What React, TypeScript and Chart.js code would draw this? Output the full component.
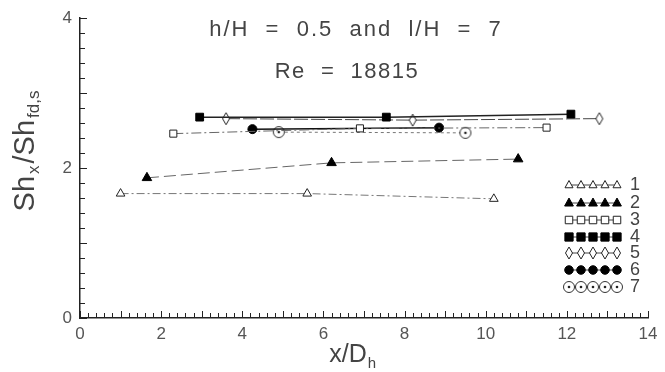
import React, { useEffect, useRef } from "react";
import { Chart, registerables } from "chart.js";
Chart.register(...registerables);

// ---- data ----
const s1X = [1.0, 5.6, 10.2];
const s1Y = [1.66, 1.66, 1.59];
const s2X = [1.65, 6.2, 10.8];
const s2Y = [1.87, 2.07, 2.12];
const s3X = [2.3, 6.9, 11.5];
const s3Y = [2.46, 2.53, 2.54];
const s4X = [2.95, 7.55, 12.1];
const s4Y = [2.68, 2.68, 2.72];
const s5X = [3.6, 8.2, 12.8];
const s5Y = [2.66, 2.64, 2.66];
const s6X = [4.25, 8.85];
const s6Y = [2.52, 2.54];
const s7X = [4.9, 9.5];
const s7Y = [2.48, 2.47];
const seriesLabels = ["1", "2", "3", "4", "5", "6", "7"];
const xTickValues = [0, 2, 4, 6, 8, 10, 12, 14];
const yTickValues = [0, 2, 4];
const titleLine1 = "h/H  =  0.5  and  l/H  =  7";
const titleLine2 = "Re  =  18815";

const FONT = "'Liberation Sans Narrow', 'Liberation Sans', sans-serif";

function makeDiamond(): HTMLCanvasElement {
  const c = document.createElement("canvas");
  c.width = 10;
  c.height = 14;
  const g = c.getContext("2d")!;
  g.fillStyle = "#fff";
  g.strokeStyle = "#222";
  g.lineWidth = 1;
  g.beginPath();
  g.moveTo(5, 1);
  g.lineTo(8.5, 7);
  g.lineTo(5, 13);
  g.lineTo(1.5, 7);
  g.closePath();
  g.fill();
  g.stroke();
  return c;
}

function makeCircleDot(): HTMLCanvasElement {
  const c = document.createElement("canvas");
  c.width = 14;
  c.height = 14;
  const g = c.getContext("2d")!;
  g.fillStyle = "#fff";
  g.strokeStyle = "#333";
  g.lineWidth = 1;
  g.beginPath();
  g.arc(7, 7, 5.5, 0, Math.PI * 2);
  g.fill();
  g.stroke();
  g.fillStyle = "#222";
  g.beginPath();
  g.arc(7, 7, 1.3, 0, Math.PI * 2);
  g.fill();
  return c;
}

function pts(xs: number[], ys: number[]) {
  return xs.map((x, i) => ({ x, y: ys[i] }));
}

export default function App() {
  const ref = useRef<HTMLCanvasElement | null>(null);

  useEffect(() => {
    document.body.style.margin = "0";
    const canvas = ref.current!;
    const diamond = makeDiamond();
    const circleDot = makeCircleDot();

    const styles: any[] = [
      { pointStyle: "triangle", pointRadius: 5, pointBackgroundColor: "#fff", pointBorderColor: "#222", borderColor: "#777", borderWidth: 1, borderDash: [8, 3, 2, 3] },
      { pointStyle: "triangle", pointRadius: 5.5, pointBackgroundColor: "#000", pointBorderColor: "#000", borderColor: "#666", borderWidth: 1, borderDash: [12, 5] },
      { pointStyle: "rect", pointRadius: 5, pointBackgroundColor: "#fff", pointBorderColor: "#222", borderColor: "#666", borderWidth: 1, borderDash: [10, 3, 2, 3] },
      { pointStyle: "rect", pointRadius: 5.5, pointBackgroundColor: "#000", pointBorderColor: "#000", borderColor: "#222", borderWidth: 1.5, borderDash: [] },
      { pointStyle: diamond, pointRadius: 5, pointBackgroundColor: "#fff", pointBorderColor: "#222", borderColor: "#444", borderWidth: 1, borderDash: [14, 3] },
      { pointStyle: "circle", pointRadius: 4.5, pointBackgroundColor: "#000", pointBorderColor: "#000", borderColor: "#111", borderWidth: 1.5, borderDash: [] },
      { pointStyle: circleDot, pointRadius: 6, pointBackgroundColor: "#fff", pointBorderColor: "#333", borderColor: "#777", borderWidth: 1, borderDash: [3, 3] },
    ];
    const allData = [pts(s1X, s1Y), pts(s2X, s2Y), pts(s3X, s3Y), pts(s4X, s4Y), pts(s5X, s5Y), pts(s6X, s6Y), pts(s7X, s7Y)];

    const datasets = allData.map((d, i) => ({
      label: seriesLabels[i],
      data: d,
      showLine: true,
      fill: false,
      tension: 0,
      pointBorderWidth: 1,
      ...styles[i],
    }));

    function drawMarker(ctx: any, style: any, r: number, x: number, y: number) {
      if (style instanceof HTMLCanvasElement) {
        ctx.drawImage(style, x - style.width / 2, y - style.height / 2);
        return;
      }
      ctx.beginPath();
      if (style === "triangle") {
        ctx.moveTo(x, y - r * 0.9);
        ctx.lineTo(x + r * 0.8, y + r * 0.55);
        ctx.lineTo(x - r * 0.8, y + r * 0.55);
        ctx.closePath();
      } else if (style === "rect") {
        ctx.rect(x - r * 0.75, y - r * 0.75, r * 1.5, r * 1.5);
      } else {
        ctx.arc(x, y, r * 0.95, 0, Math.PI * 2);
      }
      ctx.fill();
      ctx.stroke();
    }

    const decor = {
      id: "decor",
      afterDraw(chart: any) {
        const ctx = chart.ctx;
        const xs = chart.scales.x;
        const ys = chart.scales.y;
        const area = chart.chartArea;
        ctx.save();
        // inward minor ticks
        ctx.strokeStyle = "#222";
        ctx.lineWidth = 1;
        for (let k = 0; k <= 20; k++) {
          const v = k * 0.2;
          const py = Math.round(ys.getPixelForValue(v)) + 0.5;
          const len = k % 5 === 0 ? 7 : 5;
          ctx.beginPath();
          ctx.moveTo(area.left, py);
          ctx.lineTo(area.left + len, py);
          ctx.stroke();
        }
        for (let k = 0; k <= 70; k++) {
          const v = k * 0.2;
          const px = Math.round(xs.getPixelForValue(v)) + 0.5;
          const len = k % 5 === 0 ? 7 : 5;
          ctx.beginPath();
          ctx.moveTo(px, area.bottom);
          ctx.lineTo(px, area.bottom - len);
          ctx.stroke();
        }
        // titles
        ctx.fillStyle = "#444";
        ctx.textAlign = "center";
        ctx.textBaseline = "middle";
        ctx.font = `22px ${FONT}`;
        (ctx as any).letterSpacing = "2px";
        ctx.fillText(titleLine1, 356, 30);
        (ctx as any).letterSpacing = "1.5px";
        ctx.fillText(titleLine2, 347, 72);
        (ctx as any).letterSpacing = "0px";

        // legend
        const rowY = [185, 203, 220, 237, 253, 270, 287];
        for (let i = 0; i < 7; i++) {
          const ds = chart.data.datasets[i];
          const y = rowY[i];
          const x0 = 569;
          const step = 12;
          ctx.strokeStyle = "#444";
          ctx.lineWidth = 1;
          ctx.setLineDash([]);
          ctx.beginPath();
          ctx.moveTo(x0, y);
          ctx.lineTo(x0 + step * 4, y);
          ctx.stroke();
          for (let j = 0; j < 5; j++) {
            ctx.fillStyle = ds.pointBackgroundColor;
            ctx.strokeStyle = ds.pointBorderColor;
            ctx.lineWidth = 1;
            drawMarker(ctx, ds.pointStyle, ds.pointRadius, x0 + step * j, y);
          }
          ctx.fillStyle = "#444";
          ctx.textAlign = "left";
          ctx.font = `18px ${FONT}`;
          ctx.fillText(seriesLabels[i], 630, y);
        }

        // y axis title (rotated)
        ctx.save();
        ctx.translate(24, 150);
        ctx.rotate(-Math.PI / 2);
        ctx.fillStyle = "#444";
        ctx.textBaseline = "alphabetic";
        ctx.textAlign = "left";
        const parts: [string, number, number][] = [
          ["Sh", 29, 0],
          ["x", 17, 5],
          ["/Sh", 29, 0],
          ["fd,s", 17, 5],
        ];
        let total = 0;
        for (const [t, s] of parts) {
          ctx.font = `${s}px ${FONT}`;
          total += ctx.measureText(t).width + 2;
        }
        let cx = -total / 2;
        for (const [t, s, dy] of parts) {
          ctx.font = `${s}px ${FONT}`;
          ctx.fillText(t, cx, 10 + dy);
          cx += ctx.measureText(t).width + 2;
        }
        ctx.restore();

        // x axis title
        ctx.fillStyle = "#444";
        ctx.textBaseline = "alphabetic";
        ctx.textAlign = "left";
        ctx.font = `25px ${FONT}`;
        const main = "x/D";
        const w = ctx.measureText(main).width;
        ctx.fillText(main, 352 - w / 2 - 4, 362);
        ctx.font = `15px ${FONT}`;
        ctx.fillText("h", 352 + w / 2 - 3, 368);
        ctx.restore();
      },
    };

    const chart = new Chart(canvas, {
      type: "scatter",
      data: { datasets } as any,
      options: {
        responsive: false,
        animation: false,
        layout: { padding: { left: 8, right: 17, top: 16, bottom: 0 } },
        plugins: { legend: { display: false }, tooltip: { enabled: false }, title: { display: false } },
        scales: {
          x: {
            type: "linear",
            min: 0,
            max: 14,
            afterFit: (s: any) => { s.height = 54; },
            afterBuildTicks: (s: any) => { s.ticks = xTickValues.map((v) => ({ value: v })); },
            ticks: { font: { family: FONT, size: 17 }, color: "#555", padding: 6, maxRotation: 0 },
            grid: { display: true, drawOnChartArea: false, drawTicks: false, color: "#222" },
            border: { display: true, color: "#222", width: 1.5 },
          },
          y: {
            type: "linear",
            min: 0,
            max: 4,
            afterFit: (s: any) => { s.width = 72; },
            afterBuildTicks: (s: any) => { s.ticks = yTickValues.map((v) => ({ value: v })); },
            ticks: { font: { family: FONT, size: 17 }, color: "#555", padding: 8 },
            grid: { display: true, drawOnChartArea: false, drawTicks: false, color: "#222" },
            border: { display: true, color: "#222", width: 1.5 },
          },
        },
      },
      plugins: [decor],
    } as any);
    return () => chart.destroy();
  }, []);

  return (
    <div style={{ width: 665, height: 372, background: "#fff" }}>
      <canvas ref={ref} width={665} height={372} style={{ width: 665, height: 372, display: "block" }} />
    </div>
  );
}
